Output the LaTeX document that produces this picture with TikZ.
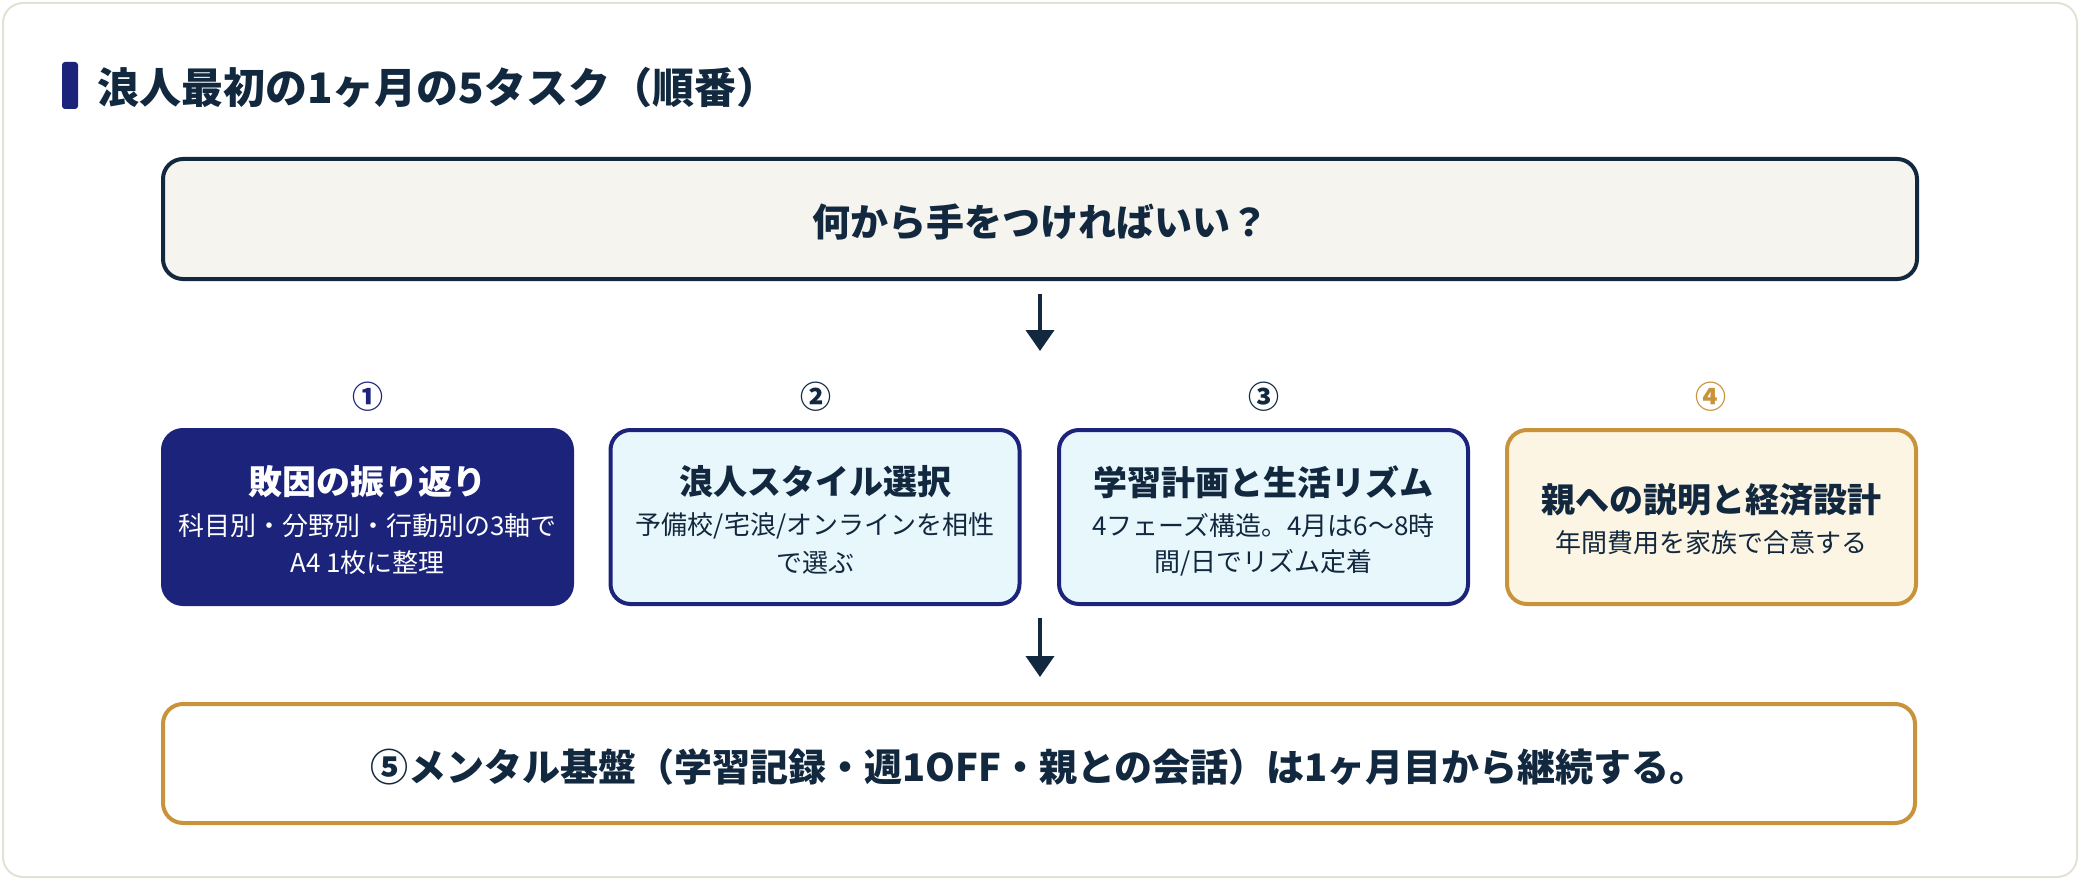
\documentclass[tikz,border=0pt]{standalone}
\usepackage{fontspec}
\setmainfont{Noto Sans CJK JP}
\usetikzlibrary{arrows.meta}
\definecolor{navy}{HTML}{1B237A}
\definecolor{ink}{HTML}{12283F}
\definecolor{gold}{HTML}{C8933A}
\definecolor{cream}{HTML}{FDF5E3}
\definecolor{cyanbg}{HTML}{E8F7FC}
\definecolor{topfill}{HTML}{F5F4EF}
\definecolor{cardline}{HTML}{E4E1D3}
\tikzset{
  every node/.style={inner sep=0pt, outer sep=0pt},
  taskbox/.style={minimum width=409pt, minimum height=174pt, rounded corners=20pt, line width=4pt},
  ttl/.style={font=\fontsize{34}{40}\selectfont\bfseries, text=ink},
  sub/.style={font=\fontsize{26}{32}\selectfont, text=ink},
  num/.style={font=\fontsize{31}{36}\selectfont\bfseries},
  arr/.style={draw=ink, line width=4pt, -{Triangle[width=28pt,length=21pt]}},
}
\begin{document}
\begin{tikzpicture}[x=1pt,y=-1pt]
\useasboundingbox (0,0) rectangle (2080,880);
\fill[white] (0,0) rectangle (2080,880);
\draw[cardline, line width=2pt, fill=white, rounded corners=20pt] (3,3) rectangle (2077,877);
% title
\fill[navy, rounded corners=3pt] (62,62) rectangle (78,109);
\node[anchor=west, font=\fontsize{42}{50}\selectfont\bfseries, text=ink] (title) at (97,88) {浪人最初の1ヶ月の5タスク（順番）};
% top question
\node[draw=ink, fill=topfill, line width=4pt, rounded corners=20pt, minimum width=1754pt, minimum height=120pt] (top) at (1040,219) {};
\node[font=\fontsize{38}{46}\selectfont\bfseries, text=ink] (topt) at (1040,222) {何から手をつければいい？};
\coordinate (a1s) at (1040,294);
\coordinate (a1e) at (1040,351);
\draw[arr] (a1s) -- (a1e);
% numbers
\node[num, text=navy] (n1) at (368,397) {①};
\node[num, text=ink] (n2) at (816,397) {②};
\node[num, text=ink] (n3) at (1264,397) {③};
\node[num, text=gold] (n4) at (1711,397) {④};
% boxes
\node[taskbox, draw=navy, fill=navy] (b1) at (367.5,517) {};
\node[taskbox, draw=navy, fill=cyanbg] (b2) at (815,517) {};
\node[taskbox, draw=navy, fill=cyanbg] (b3) at (1263.5,517) {};
\node[taskbox, draw=gold, fill=cream] (b4) at (1711.5,517) {};
\node[ttl, text=white] (b1t) at (367.5,482) {敗因の振り返り};
\node[sub, text=white] (b1a) at (367.5,526) {科目別・分野別・行動別の3軸で};
\node[sub, text=white] (b1b) at (367.5,563) {A4 1枚に整理};
\node[ttl] (b2t) at (815,482) {浪人スタイル選択};
\node[sub] (b2a) at (815,526) {予備校/宅浪/オンラインを相性};
\node[sub] (b2b) at (815,563) {で選ぶ};
\node[ttl] (b3t) at (1263.5,482) {学習計画と生活リズム};
\node[sub] (b3a) at (1263.5,526) {4フェーズ構造。4月は6〜8時};
\node[sub] (b3b) at (1263.5,563) {間/日でリズム定着};
\node[ttl] (b4t) at (1711.5,500) {親への説明と経済設計};
\node[sub] (b4a) at (1711.5,543) {年間費用を家族で合意する};
\coordinate (a2s) at (1040,618);
\coordinate (a2e) at (1040,677);
\draw[arr] (a2s) -- (a2e);
% bottom
\node[draw=gold, fill=white, line width=4pt, rounded corners=20pt, minimum width=1752pt, minimum height=119pt] (bot) at (1039,763.5) {};
\node[font=\fontsize{38}{46}\selectfont\bfseries, text=ink] (bott) at (1039,767) {⑤メンタル基盤（学習記録・週1OFF・親との会話）は1ヶ月目から継続する。};
\end{tikzpicture}
\end{document}
